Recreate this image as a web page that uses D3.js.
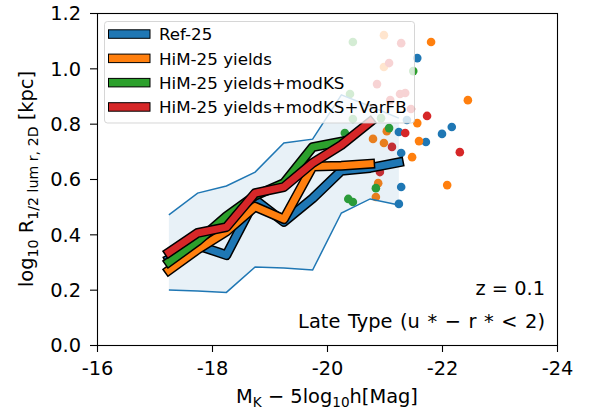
<!DOCTYPE html>
<html><head><meta charset="utf-8">
<script src="https://cdn.jsdelivr.net/npm/d3@7"></script>
<style>
body{margin:0;background:#fff}
svg{display:block}
text{font-family:"DejaVu Sans",sans-serif;fill:#000}
</style>
</head><body>
<svg id="c" width="596" height="414"></svg>
<script>
// ---- data ----
const magBins = [-17.25,-17.75,-18.25,-18.75,-19.25,-19.75,-20.25,-20.75,-21.25];
const ref25   = [0.31,0.36,0.325,0.525,0.445,0.53,0.63,0.64,0.66];
const ref25Lo = [0.199,0.195,0.19,0.282,0.278,0.271,0.477,0.528,0.506];
const ref25Hi = [0.470,0.549,0.575,0.625,0.730,0.744,0.904,0.863,0.82];
const him25       = [0.27,0.345,0.41,0.50,0.455,0.645,0.648,0.655];
const him25KS     = [0.30,0.375,0.465,0.54,0.585,0.715,0.735];
const him25KSFB   = [0.335,0.405,0.426,0.549,0.571,0.658,0.723,0.806];

const refPtsX = [-21.57,-21.39,-21.25,-21.72,-22.0,-22.17,-21.29,-21.29,-21.25];
const refPtsY = [1.037,0.813,0.770,0.734,0.763,0.788,0.694,0.571,0.510];
const himPtsX = [-20.99,-20.99,-21.81,-22.45,-21.57,-21.04,-20.80,-20.99,-21.60,-21.48,-20.89,-20.85,-22.09];
const himPtsY = [1.120,1.005,1.095,0.885,0.802,0.773,0.745,0.730,0.737,0.679,0.585,0.535,0.578];
const ksPtsX  = [-20.45,-21.50,-20.40,-20.45,-20.94,-20.31,-21.08,-20.85,-20.37,-20.45];
const ksPtsY  = [1.095,0.990,0.907,0.817,0.820,0.766,0.784,0.567,0.528,0.517];
const fbPtsX  = [-21.29,-21.08,-20.87,-21.27,-21.36,-21.10,-21.46,-21.74,-21.36,-21.13,-22.31,-20.92];
const fbPtsY  = [1.091,1.019,0.943,0.907,0.911,0.885,0.853,0.828,0.766,0.716,0.697,0.625];

const seriesNames  = ["Ref-25","HiM-25 yields","HiM-25 yields+modKS","HiM-25 yields+modKS+VarFB"];
const seriesColors = ["#1f77b4","#ff7f0e","#2ca02c","#d62728"];
const xTicks = [-16,-18,-20,-22,-24];
const yTicks = [0,0.2,0.4,0.6,0.8,1.0,1.2];

// ---- layout ----
const svg = d3.select("#c");
const L=97, R=557, T=13, B=345;
const x = d3.scaleLinear().domain([-16,-24]).range([L,R]);
const y = d3.scaleLinear().domain([0,1.2]).range([B,T]);
const TICKFS = 19.4, LEGFS = 16.7;

// scatter points (drawn first)
const ptSets = [[refPtsX,refPtsY],[himPtsX,himPtsY],[ksPtsX,ksPtsY],[fbPtsX,fbPtsY]];
ptSets.forEach((s,k)=>{
  svg.append("g").selectAll("circle").data(s[0]).join("circle")
    .attr("cx",(d)=>x(d)).attr("cy",(d,i)=>y(s[1][i])).attr("r",4.3)
    .attr("fill",seriesColors[k]);
});

// Ref-25 spread band
const area = d3.area().x((d,i)=>x(magBins[i])).y0((d,i)=>y(ref25Lo[i])).y1(d=>y(d));
svg.append("path").attr("d",area(ref25Hi)).attr("fill","#1f77b4").attr("fill-opacity",0.1);
const ln = d3.line().x((d,i)=>x(magBins[i])).y(d=>y(d));
[ref25Lo,ref25Hi].forEach(a=>svg.append("path").attr("d",ln(a)).attr("fill","none")
  .attr("stroke","#1f77b4").attr("stroke-width",1.5));

// thick outlined median lines
[ref25,him25,him25KS,him25KSFB].forEach((a,k)=>{
  const g = svg.append("g");
  g.append("path").attr("d",ln(a)).attr("fill","none").attr("stroke","#000")
    .attr("stroke-width",10).attr("stroke-linejoin","round").attr("stroke-linecap","square");
  g.append("path").attr("d",ln(a)).attr("fill","none").attr("stroke",seriesColors[k])
    .attr("stroke-width",7).attr("stroke-linejoin","round").attr("stroke-linecap","square");
});

// legend
const lg = svg.append("g");
lg.append("rect").attr("x",104.5).attr("y",21.5).attr("width",310).attr("height",101.5)
  .attr("rx",3).attr("fill","#fff").attr("fill-opacity",0.8)
  .attr("stroke","#ccc").attr("stroke-opacity",0.8).attr("stroke-width",1);
seriesNames.forEach((n,i)=>{
  const cy = 34 + i*24.3;
  lg.append("rect").attr("x",108.5).attr("y",cy-4.2).attr("width",41.5).attr("height",8.5)
    .attr("fill",seriesColors[i]).attr("stroke","#000").attr("stroke-width",1);
  lg.append("text").attr("x",159).attr("y",cy+6.2).attr("font-size",LEGFS).text(n);
});

// axes
const xa = svg.append("g").attr("transform",`translate(0,${B})`)
  .call(d3.axisBottom(x).tickValues(xTicks).tickFormat(d=>String(d)).tickSize(7).tickSizeOuter(0));
xa.selectAll("text").attr("dy",null).attr("y",30).attr("font-size",TICKFS).attr("font-family","DejaVu Sans");
const ya = svg.append("g").attr("transform",`translate(${L},0)`)
  .call(d3.axisLeft(y).tickValues(yTicks).tickFormat(d3.format(".1f")).tickSize(7).tickSizeOuter(0));
ya.selectAll("text").attr("dy","6.8").attr("x",-16).attr("font-size",TICKFS).attr("font-family","DejaVu Sans");
svg.selectAll(".domain").remove();
svg.selectAll(".tick line").attr("stroke","#000").attr("stroke-width",1.1);
svg.append("rect").attr("x",L+0.5).attr("y",T+0.5).attr("width",R-L).attr("height",B-T)
  .attr("fill","none").attr("stroke","#000").attr("stroke-width",1.1);

// axis labels
const xl = svg.append("text").attr("x",(L+R)/2).attr("y",402.7).attr("text-anchor","middle").attr("font-size",TICKFS);
xl.append("tspan").text("M");
xl.append("tspan").attr("font-size",13.6).attr("dy",4.5).text("K");
xl.append("tspan").attr("dy",-4.5).text(" \u2212 5log");
xl.append("tspan").attr("font-size",13.6).attr("dy",4.5).text("10");
xl.append("tspan").attr("dy",-4.5).text("h[Mag]");

const yl = svg.append("text").attr("transform",`translate(33,${(T+B)/2}) rotate(-90)`)
  .attr("text-anchor","middle").attr("font-size",TICKFS);
yl.append("tspan").text("log");
yl.append("tspan").attr("font-size",14.2).attr("dy",4.5).text("10");
yl.append("tspan").attr("dy",-4.5).text(" R");
yl.append("tspan").attr("font-size",14.2).attr("dy",4.5).text("1/2 lum r, 2D");
yl.append("tspan").attr("dy",-4.5).text(" [kpc]");

// annotations
svg.append("text").attr("x",545).attr("y",295).attr("text-anchor","end").attr("font-size",TICKFS).text("z = 0.1");
svg.append("text").attr("x",545).attr("y",328).attr("text-anchor","end").attr("font-size",TICKFS)
  .attr("word-spacing",1.4).text("Late Type (u * \u2212 r * < 2)");
</script>
</body></html>
